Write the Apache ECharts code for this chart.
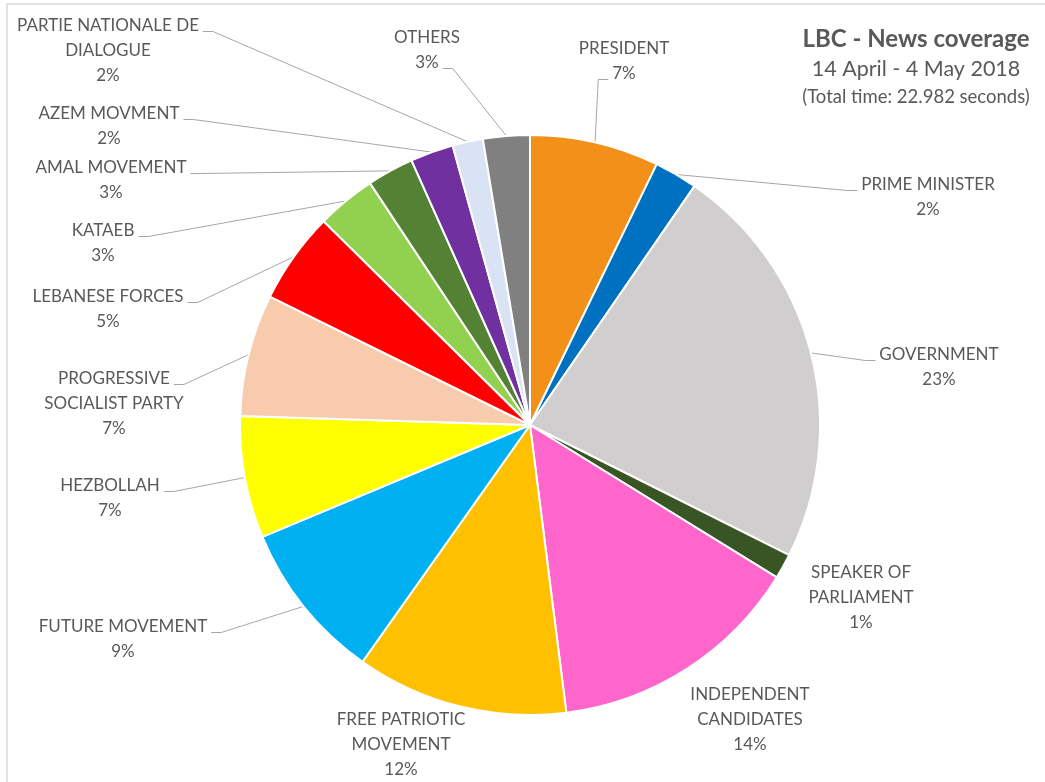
<!DOCTYPE html>
<html>
<head>
<meta charset="utf-8">
<script src="https://cdn.jsdelivr.net/npm/echarts@6/dist/echarts.min.js"></script>
<style>
  html, body { margin: 0; padding: 0; background: #fff; }
  #chart { width: 1045px; height: 782px; }
</style>
</head>
<body>
<div id="chart"></div>
<script>
// categories, in clockwise order from 12 o'clock
const categories = [
  'PRESIDENT',
  'PRIME MINISTER',
  'GOVERNMENT',
  'SPEAKER OF\nPARLIAMENT',
  'INDEPENDENT\nCANDIDATES',
  'FREE PATRIOTIC\nMOVEMENT',
  'FUTURE MOVEMENT',
  'HEZBOLLAH',
  'PROGRESSIVE\nSOCIALIST PARTY',
  'LEBANESE FORCES',
  'KATAEB',
  'AMAL MOVEMENT',
  'AZEM MOVMENT',
  'PARTIE NATIONALE DE\nDIALOGUE',
  'OTHERS',
]
// share of coverage time (%)
const shares = [7.2, 2.4, 22.8, 1.4, 14.2, 11.8, 8.9, 6.8, 6.8, 5.1, 3.3, 2.6, 2.4, 1.7, 2.6]
const colors = [
  '#F39019', '#0070C0', '#D0CECE', '#375623', '#FF66CC',
  '#FFC000', '#00B0F0', '#FFFF00', '#F8CBAD', '#FF0000',
  '#92D050', '#548235', '#7030A0', '#DAE3F3', '#808080',
]

/* label placement like the excel original:
   [centre x, top y, side the leader line joins, line of text it joins] */
const labelSpots = [
  [624, 36, 'left', 1],
  [928, 172, 'left', 0],
  [939, 342, 'left', 0],
  [861, 560, null, 0],
  [750, 682, null, 0],
  [401, 707, null, 0],
  [123, 614, 'right', 0],
  [110, 473, 'right', 0],
  [114, 366, 'right', 0],
  [108, 284, 'right', 0],
  [103, 218, 'right', 0],
  [111, 155, 'right', 0],
  [109, 101, 'right', 0],
  [108, 13, 'right', 0],
  [427, 25, 'right', 1],
]

const FONT = 'Lato, "Noto Sans", sans-serif'
const TEXT = '#595959'
const LABEL_SIZE = 17
const LINE_H = 25

// width of one line of label text, to hook the leader line on its end
let ctx = document.createElement('canvas').getContext('2d')
ctx.font = LABEL_SIZE + 'px ' + FONT
function labelLines(i) {
  let lines = categories[i].split('\n')
  lines.push(Math.round(shares[i] / shares.reduce((a, b) => a + b, 0) * 100) + '%')
  return lines
}

let myChart = echarts.init(document.getElementById('chart'))

let data = categories.map((name, i) => ({
  name: name,
  value: shares[i],
  itemStyle: { color: colors[i] },
  labelLine: { show: labelSpots[i][2] != null },
}))

let option = {
  animation: false,
  title: {
    text: 'LBC - News coverage',
    subtext: '{a|14 April - 4 May 2018}\n{b|(Total time: 22.982 seconds)}',
    left: 911,
    top: 22,
    textAlign: 'center',
    itemGap: 3,
    textStyle: {
      fontFamily: FONT,
      fontSize: 24,
      fontWeight: 'bold',
      color: TEXT,
    },
    subtextStyle: {
      fontFamily: FONT,
      color: TEXT,
      align: 'center',
      rich: {
        a: { fontFamily: FONT, fontSize: 21.5, color: TEXT, align: 'center', lineHeight: 30 },
        b: { fontFamily: FONT, fontSize: 18.5, color: TEXT, align: 'center', lineHeight: 26 },
      },
    },
  },
  graphic: [
    {
      type: 'rect',
      shape: { x: 7, y: 4, width: 1100, height: 900 },
      style: { fill: null, stroke: '#D9D9D9', lineWidth: 1.5 },
      silent: true,
    },
  ],
  series: [
    {
      type: 'pie',
      center: [530, 425],
      radius: 290,
      startAngle: 90,
      clockwise: true,
      avoidLabelOverlap: false,
      data: data,
      itemStyle: { borderColor: '#fff', borderWidth: 2 },
      label: {
        formatter: (p) => labelLines(p.dataIndex).map((l) => '{c|' + l + '}').join('\n'),
        rich: {
          c: { fontFamily: FONT, fontSize: LABEL_SIZE, color: TEXT, align: 'center', lineHeight: LINE_H },
        },
      },
      labelLine: {
        length: 18,
        length2: 30,
        lineStyle: { color: '#A6A6A6', width: 1 },
      },
      labelLayout: (params) => {
        let i = params.dataIndex
        let [cx, top, side, lineIdx] = labelSpots[i]
        let out = { x: cx, y: top, align: 'center', verticalAlign: 'top' }
        if (side && params.labelLinePoints) {
          let w = ctx.measureText(labelLines(i)[lineIdx]).width
          let y = top + LINE_H * lineIdx + LINE_H / 2 + 6
          let endX = side === 'right' ? cx + w / 2 + 4 : cx - w / 2 - 4
          let elbowX = side === 'right' ? endX + 10 : endX - 10
          out.labelLinePoints = [params.labelLinePoints[0], [elbowX, y], [endX, y]]
        }
        return out
      },
      emphasis: { disabled: true },
    },
  ],
}

myChart.setOption(option)
</script>
</body>
</html>
